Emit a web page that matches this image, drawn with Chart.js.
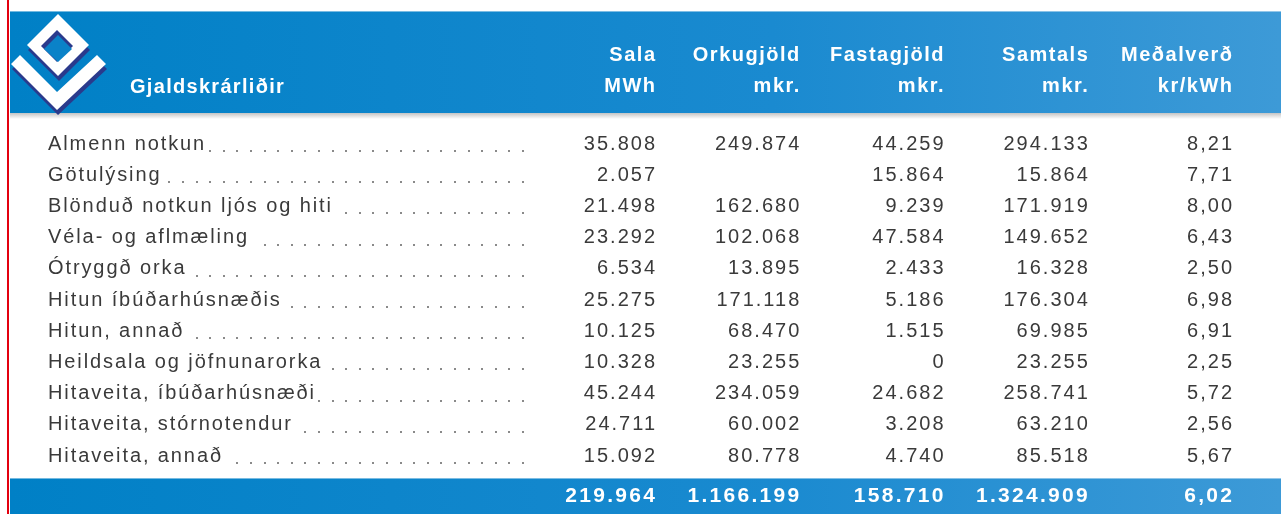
<!DOCTYPE html>
<html>
<head>
<meta charset="utf-8">
<script src="https://cdn.jsdelivr.net/npm/chart.js@4.4.0/dist/chart.umd.min.js"></script>
<style>
  html, body { margin: 0; padding: 0; background: #fff; }
  #wrap { width: 1281px; height: 514px; }
</style>
</head>
<body>
<div id="wrap"><canvas id="myChart"></canvas></div>
<script>
// Gjaldskrárliðir - table data
const categories = [
  'Almenn notkun', 'Götulýsing', 'Blönduð notkun ljós og hiti', 'Véla- og aflmæling',
  'Ótryggð orka', 'Hitun íbúðarhúsnæðis', 'Hitun, annað', 'Heildsala og jöfnunarorka',
  'Hitaveita, íbúðarhúsnæði', 'Hitaveita, stórnotendur', 'Hitaveita, annað'
];
const columns = ['Sala', 'Orkugjöld', 'Fastagjöld', 'Samtals', 'Meðalverð'];
const units = ['MWh', 'mkr.', 'mkr.', 'mkr.', 'kr/kWh'];

const sala = [35808, 2057, 21498, 23292, 6534, 25275, 10125, 10328, 45244, 24711, 15092];
const orkugjold = [249874, null, 162680, 102068, 13895, 171118, 68470, 23255, 234059, 60002, 80778];
const fastagjold = [44259, 15864, 9239, 47584, 2433, 5186, 1515, 0, 24682, 3208, 4740];
const samtals = [294133, 15864, 171919, 149652, 16328, 176304, 69985, 23255, 258741, 63210, 85518];
const medalverd = [8.21, 7.71, 8.00, 6.43, 2.50, 6.98, 6.91, 2.25, 5.72, 2.56, 5.67];
const totals = [219964, 1166199, 158710, 1324909, 6.02];

const series = [sala, orkugjold, fastagjold, samtals, medalverd];

const FONT = '"Liberation Sans", Arial, sans-serif';

function fmtInt(v) {
  if (v === null || v === undefined) return '';
  return String(v).replace(/\B(?=(\d{3})+(?!\d))/g, '.');
}
function fmtDec(v) {
  return v.toFixed(2).replace('.', ',');
}
function fmt(col, v) {
  return col === 4 ? fmtDec(v) : fmtInt(v);
}

function blueGrad(ctx, x0, x1) {
  const g = ctx.createLinearGradient(x0, 0, x1, 0);
  g.addColorStop(0, '#0080c6');
  g.addColorStop(0.6, '#1a8ad0');
  g.addColorStop(1, '#3d9ad7');
  return g;
}

function poly(ctx, pts, color) {
  ctx.beginPath();
  ctx.moveTo(pts[0][0], pts[0][1]);
  for (let i = 1; i < pts.length; i++) ctx.lineTo(pts[i][0], pts[i][1]);
  ctx.closePath();
  ctx.fillStyle = color;
  ctx.fill();
}

function drawLogo(ctx) {
  const navy = '#2a3a8c';
  const blue = '#0a82c8';
  // chevron shadow + face
  const v = [[11, 64], [20, 55], [57, 92], [97, 55], [106, 64], [57, 110]];
  poly(ctx, v.map(p => [p[0] + 1, p[1] + 5]), navy);
  poly(ctx, v, '#ffffff');
  // diamond shadow + face
  const d = [[58, 14], [89, 45], [58, 76], [27, 45]];
  poly(ctx, d.map(p => [p[0] + 1, p[1] + 5]), navy);
  poly(ctx, d, '#ffffff');
  // hole
  const h = [[57, 30], [73, 46], [57, 62], [41, 46]];
  poly(ctx, h, navy);
  poly(ctx, [[58, 35], [72, 49], [58, 62], [44, 49]], blue);
}

function spaced(ctx, text, x, y, align, spacing) {
  ctx.letterSpacing = spacing + 'px';
  ctx.textAlign = align;
  ctx.fillText(text, align === 'right' ? x + spacing : x, y);
}

const tablePlugin = {
  id: 'tablePlugin',
  beforeDraw(chart) {
    const ctx = chart.ctx;
    const W = chart.width;
    ctx.save();
    ctx.fillStyle = '#ffffff';
    ctx.fillRect(0, 0, W, chart.height);

    // header band
    ctx.fillStyle = blueGrad(ctx, 10, W);
    ctx.fillRect(10, 11, W - 10, 102);
    ctx.fillStyle = 'rgba(255,255,255,0.45)';
    ctx.fillRect(10, 11, W - 10, 1);
    const sh = ctx.createLinearGradient(0, 113, 0, 119);
    sh.addColorStop(0, '#c4c4c4');
    sh.addColorStop(1, '#ffffff');
    ctx.fillStyle = sh;
    ctx.fillRect(10, 113, W - 10, 6);

    // total band
    ctx.fillStyle = blueGrad(ctx, 10, W);
    ctx.fillRect(10, 478, W - 10, chart.height - 478);
    ctx.fillStyle = 'rgba(255,255,255,0.45)';
    ctx.fillRect(10, 478, W - 10, 1);

    // red margin line
    ctx.fillStyle = '#e3000f';
    ctx.fillRect(7, 0, 2, chart.height);

    drawLogo(ctx);
    ctx.restore();
  },
  afterDraw(chart) {
    const ctx = chart.ctx;
    const xs = chart.scales.x;
    const ys = chart.scales.y;
    ctx.save();
    ctx.textBaseline = 'middle';

    // header
    ctx.fillStyle = '#ffffff';
    ctx.font = 'bold 20px ' + FONT;
    spaced(ctx, 'Gjaldskrárliðir', 130, 87, 'left', 1.3);
    columns.forEach((c, j) => {
      const x = xs.getPixelForValue(j);
      spaced(ctx, c, x, 55, 'right', 1.5);
      spaced(ctx, units[j], x, 86, 'right', 1.5);
    });

    // body rows
    ctx.font = '20px ' + FONT;
    categories.forEach((label, i) => {
      const y = ys.getPixelForValue(i);
      ctx.fillStyle = '#3a3a3a';
      ctx.letterSpacing = '1.9px';
      ctx.textAlign = 'left';
      ctx.fillText(label, 48, y);
      const w = ctx.measureText(label).width;
      ctx.fillStyle = '#8a8a8a';
      for (let dx = 522; dx > 48 + w + 2; dx -= 13.6) {
        ctx.fillRect(Math.round(dx), Math.round(y + 6), 2, 2);
      }
      ctx.fillStyle = '#3a3a3a';
      series.forEach((s, j) => {
        spaced(ctx, fmt(j, s[i]), xs.getPixelForValue(j), y, 'right', 2);
      });
    });

    // totals
    ctx.fillStyle = '#ffffff';
    ctx.font = 'bold 21px ' + FONT;
    totals.forEach((v, j) => {
      spaced(ctx, fmt(j, v), xs.getPixelForValue(j), 496, 'right', 2.3);
    });
    ctx.restore();
  }
};

const ctx = document.getElementById('myChart');
const myChart = new Chart(ctx, {
  type: 'line',
  data: { datasets: [] },
  options: {
    responsive: true,
    maintainAspectRatio: false,
    devicePixelRatio: 1,
    animation: false,
    layout: { padding: { left: 655, right: 49, top: 144, bottom: 58 } },
    plugins: { legend: { display: false }, tooltip: { enabled: false } },
    scales: {
      x: { type: 'category', labels: columns, offset: false, display: false },
      y: { type: 'category', labels: categories, offset: false, display: false }
    }
  },
  plugins: [tablePlugin]
});
</script>
</body>
</html>
